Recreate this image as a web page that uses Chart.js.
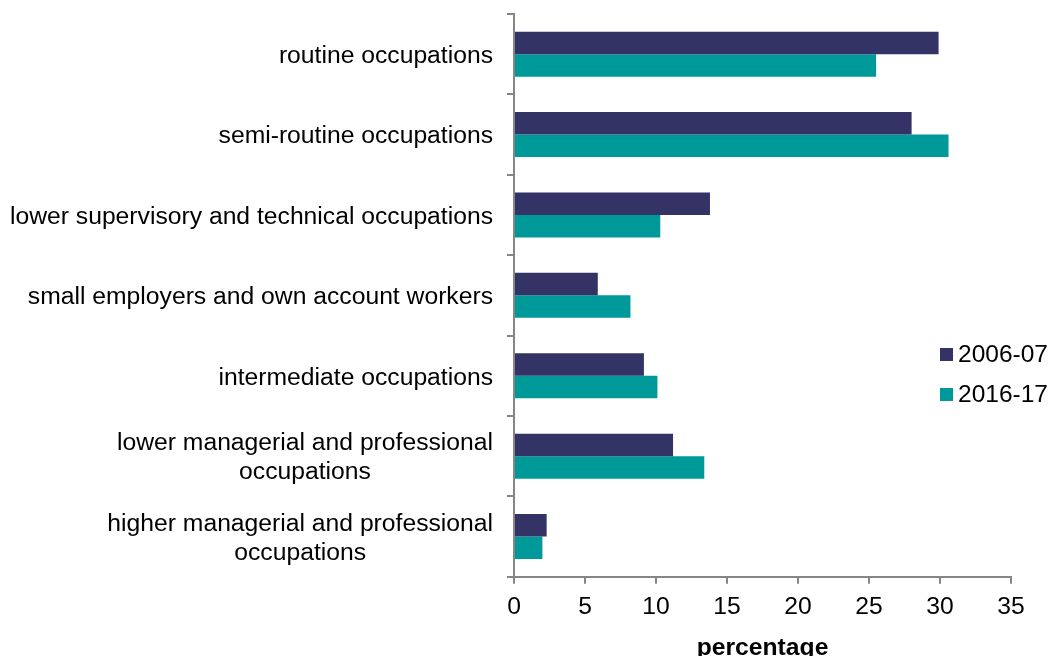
<!DOCTYPE html>
<html>
<head>
<meta charset="utf-8">
<script src="https://cdn.jsdelivr.net/npm/chart.js@4"></script>
<style>
  body { margin: 0; background: #fff; }
  #wrap { position: relative; width: 1050px; height: 656px; }
  #legend { position: absolute; left: 940px; top: 334px; font: 24.5px "Liberation Sans", Arial, sans-serif; color: #000; }
  #legend div { height: 40px; display: flex; align-items: center; }
  #legend span.box { display: inline-block; width: 13px; height: 13px; margin-right: 5px; }
</style>
</head>
<body>
<div id="wrap">
  <canvas id="chart" width="1050" height="656"></canvas>
  <div id="legend"></div>
</div>
<script>
// categories top to bottom
var categorias = [
  ['routine occupations'],
  ['semi-routine occupations'],
  ['lower supervisory and technical occupations'],
  ['small employers and own account workers'],
  ['intermediate occupations'],
  ['lower managerial and professional', 'occupations'],
  ['higher managerial and professional', 'occupations']
];
var serie2006 = [29.9, 28.0, 13.8, 5.9, 9.15, 11.2, 2.3];
var serie2016 = [25.5, 30.6, 10.3, 8.2, 10.1, 13.4, 2.0];
var ticksX = [0, 5, 10, 15, 20, 25, 30, 35];

var corAzul = '#333366';
var corVerde = '#009999';
var corEixo = '#868686';
var fonte = '"Liberation Sans", Arial, sans-serif';

// draw the category labels: widest line right-aligned, others centred under it
var rotulosY = {
  id: 'rotulosY',
  afterDraw: function(chart) {
    var ctx = chart.ctx;
    var y = chart.scales.y;
    ctx.save();
    ctx.font = '24.7px ' + fonte;
    ctx.fillStyle = '#000';
    ctx.textAlign = 'center';
    ctx.textBaseline = 'middle';
    var direita = chart.chartArea.left - 21;
    var alturaLinha = 29;
    categorias.forEach(function(linhas, i) {
      var largura = 0;
      linhas.forEach(function(l) { largura = Math.max(largura, ctx.measureText(l).width); });
      var centro = y.getPixelForValue(i) + 2;
      var y0 = centro - (linhas.length - 1) * alturaLinha / 2;
      linhas.forEach(function(l, k) {
        ctx.fillText(l, direita - largura / 2, y0 + k * alturaLinha);
      });
    });
    ctx.restore();
  }
};

var ctx = document.getElementById('chart').getContext('2d');
var chart = new Chart(ctx, {
  type: 'bar',
  data: {
    labels: categorias.map(function(c) { return c.join(' '); }),
    datasets: [{
      label: '2006-07',
      backgroundColor: corAzul,
      data: serie2006
    }, {
      label: '2016-17',
      backgroundColor: corVerde,
      data: serie2016
    }]
  },
  options: {
    indexAxis: 'y',
    responsive: false,
    animation: false,
    datasets: { bar: { categoryPercentage: 0.56, barPercentage: 1 } },
    layout: { padding: { top: 14, right: 39, left: 0, bottom: -7 } },
    plugins: { legend: { display: false }, tooltip: { enabled: false } },
    scales: {
      x: {
        min: 0, max: 35,
        afterBuildTicks: function(s) { s.ticks = ticksX.map(function(v) { return { value: v }; }); },
        grid: { drawOnChartArea: false, tickLength: 7, color: corEixo, lineWidth: 2 },
        border: { color: corEixo, width: 2 },
        ticks: { color: '#000', font: { size: 24.7, family: fonte }, padding: 9, maxRotation: 0 },
        title: { display: true, text: 'percentage', color: '#000', font: { size: 24.7, weight: 'bold', family: fonte }, padding: { top: 2, bottom: 0 } }
      },
      y: {
        grid: { drawOnChartArea: false, tickLength: 7, color: corEixo, lineWidth: 2, offset: true },
        border: { color: corEixo, width: 2 },
        ticks: { callback: function() { return ''; } },
        afterFit: function(s) { s.width = 514; }
      }
    }
  },
  plugins: [rotulosY]
});

var legenda = document.getElementById('legend');
chart.data.datasets.forEach(function(d) {
  var linha = document.createElement('div');
  linha.innerHTML = '<span class="box" style="background:' + d.backgroundColor + '"></span>' + d.label;
  legenda.appendChild(linha);
});
</script>
</body>
</html>
